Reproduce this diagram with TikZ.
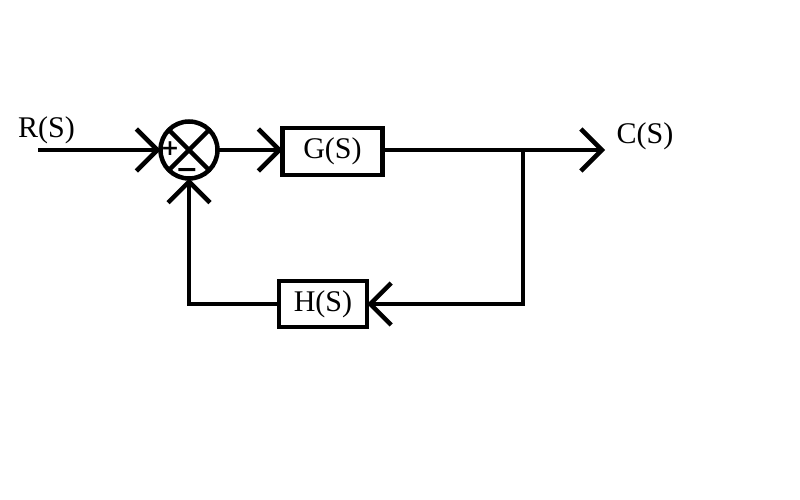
\documentclass[tikz,border=0pt]{standalone}
\usepackage{fontspec}
\setmainfont{Liberation Serif}
\newfontfamily\signfont{DejaVu Sans}
\usetikzlibrary{arrows.meta}
\begin{document}
\begin{tikzpicture}[x=1pt,y=-1pt,
  wire/.style={line width=4.5pt},
  flow/.style={wire,-{Straight Barb[length=21pt,width=42pt,line width=4.5pt]}},
  blockbox/.style={draw,line width=4.5pt,rectangle,inner sep=0pt,outer sep=0pt,
    font=\fontsize{30}{36}\selectfont},
  sumnode/.style={draw,line width=4.5pt,circle,inner sep=0pt,outer sep=0pt,minimum size=57pt},
  signal/.style={font=\fontsize{30}{36}\selectfont,anchor=base,inner sep=0pt},
  sign/.style={inner sep=0pt}]
  \useasboundingbox (0,0) rectangle (800,500);

  % summing junction with its cross
  \node[sumnode] (sum) at (189,150) {};
  \draw[wire] (sum.north west) -- (sum.south east);
  \draw[wire] (sum.north east) -- (sum.south west);
  \node[sign,font=\fontsize{22}{26}\signfont\bfseries] (plus) at (170,149) {+};
  \node[sign,font=\fontsize{27}{30}\signfont\bfseries,anchor=base] (minus) at (187,178) {−};

  % forward and feedback blocks
  \node[blockbox,minimum width=100pt,minimum height=46.5pt] (G) at (332.5,151.5) {G(S)};
  \node[blockbox,minimum width=88pt,minimum height=46pt] (H) at (323,304) {H(S)};

  % signal labels
  \node[signal] (R) at (46.5,137) {R(S)};
  \node[signal] (C) at (645,143) {C(S)};

  % connectors
  \coordinate (rin) at (38,150);
  \coordinate (out) at (605,150);
  \coordinate (tap) at (523,150);
  \draw[flow] (rin) -- (sum.west);
  \draw[flow] (sum.east) -- (G.west |- sum.east);
  \draw[flow] (G.east |- out) -- (out);
  \draw[flow] (tap) |- (H.east);
  \draw[flow] (H.west) -| (sum.south);
\end{tikzpicture}
\end{document}
